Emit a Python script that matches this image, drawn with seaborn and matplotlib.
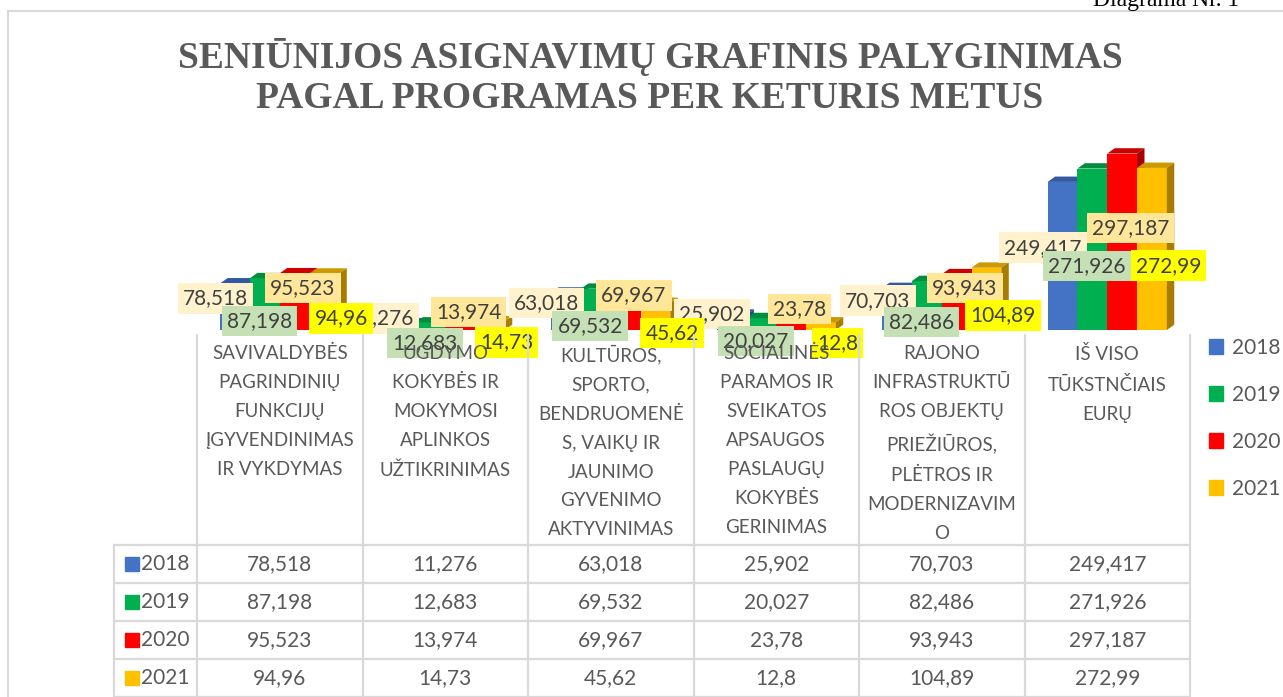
import colorsys
import matplotlib
matplotlib.use('Agg')
import matplotlib.pyplot as plt
import matplotlib.colors as mcolors
from matplotlib.patches import Patch, Polygon, Rectangle
import pandas as pd
import seaborn as sns

# data (thousand EUR)
categories = [
    'SAVIVALDYBĖS\nPAGRINDINIŲ\nFUNKCIJŲ\nĮGYVENDINIMAS\nIR VYKDYMAS',
    'UGDYMO\nKOKYBĖS IR\nMOKYMOSI\nAPLINKOS\nUŽTIKRINIMAS',
    'KULTŪROS,\nSPORTO,\nBENDRUOMENĖ\nS, VAIKŲ IR\nJAUNIMO\nGYVENIMO\nAKTYVINIMAS',
    'SOCIALINĖS\nPARAMOS IR\nSVEIKATOS\nAPSAUGOS\nPASLAUGŲ\nKOKYBĖS\nGERINIMAS',
    'RAJONO\nINFRASTRUKTŪ\nROS OBJEKTŲ\nPRIEŽIŪROS,\nPLĖTROS IR\nMODERNIZAVIM\nO',
    'IŠ VISO\nTŪKSTNČIAIS\nEURŲ',
]
years = ['2018', '2019', '2020', '2021']
v2018 = [78.518, 11.276, 63.018, 25.902, 70.703, 249.417]
v2019 = [87.198, 12.683, 69.532, 20.027, 82.486, 271.926]
v2020 = [95.523, 13.974, 69.967, 23.78, 93.943, 297.187]
v2021 = [94.96, 14.73, 45.62, 12.8, 104.89, 272.99]

colors = ['#4472C4', '#00B050', '#FF0000', '#FFC000']
label_bg = ['#FFF2CC', '#C5E0B4', '#FFE699', '#FFFF00']
label_off = [(-14, 6), (-4, -12), (6, 10), (12, -12)]  # points, per series
txt_col = '#595959'

series = [v2018, v2019, v2020, v2021]
rows = []
for y, vals in zip(years, series):
    for c, v in zip(categories, vals):
        rows.append({'category': c, 'year': y, 'value': v})
df = pd.DataFrame(rows)


def fmt(v):
    return f'{v:g}'.replace('.', ',')


def shade(c, f):
    r, g, b = mcolors.to_rgb(c)
    h, l, s = colorsys.rgb_to_hls(r, g, b)
    return colorsys.hls_to_rgb(h, l * f, s)


sns.set_theme(style='white')
plt.rcParams['font.family'] = ['Lato', 'DejaVu Sans']

W, H = 1283, 697
fig = plt.figure(figsize=(W / 100, H / 100), dpi=100)


def fx(px):
    return px / W


def fy(py):
    return 1 - py / H


# outer chart border
fig.patches.append(Rectangle((fx(8), fy(1000)), 2, fy(11) - fy(1000), transform=fig.transFigure,
                             fill=False, ec='#D9D9D9', lw=1.5))
fig.text(fx(1093), fy(6), 'Diagrama Nr. 1', family='Liberation Serif', fontsize=17, color='black',
         ha='left', va='baseline')
fig.text(fx(650), fy(77), 'SENIŪNIJOS ASIGNAVIMŲ GRAFINIS PALYGINIMAS\nPAGAL PROGRAMAS PER KETURIS METUS',
         family='Liberation Serif', weight='bold', fontsize=27, color=txt_col, ha='center', va='center',
         linespacing=1.2)

# bars
ax = fig.add_axes([fx(197), fy(330), fx(1190) - fx(197), fy(140) - fy(330)])
sns.barplot(data=df, x='category', y='value', hue='year', order=categories, hue_order=years,
            palette=colors, width=0.72, saturation=1, ax=ax, legend=False)
ax.set_xlim(-0.5, len(categories) - 0.5)
ax.set_ylim(0, 320)
ax.axis('off')

dx, dy = 0.045, 9
for i, (cont, vals) in enumerate(zip(ax.containers, series)):
    for bar, v in zip(cont.patches, vals):
        bar.set_zorder(2 + i * 0.1)
        bar.set_edgecolor('none')
        x0, x1, h = bar.get_x(), bar.get_x() + bar.get_width(), bar.get_height()
        top = Polygon([(x0, h), (x0 + dx, h + dy), (x1 + dx, h + dy), (x1, h)],
                      fc=shade(colors[i], 0.8), ec='none', zorder=2 + i * 0.1)
        side = Polygon([(x1, 0), (x1 + dx, dy), (x1 + dx, h + dy), (x1, h)],
                       fc=shade(colors[i], 0.65), ec='none', zorder=2 + i * 0.1)
        ax.add_patch(top)
        ax.add_patch(side)
        ax.annotate(fmt(v), (bar.get_x() + bar.get_width() / 2, h / 2), xytext=label_off[i],
                    textcoords='offset points', ha='center', va='center', fontsize=15, color='#404040',
                    bbox=dict(boxstyle='square,pad=0.25', fc=label_bg[i], ec='none'), zorder=5 + i)

# data table under the chart
tab = fig.add_axes([fx(197), fy(697), fx(1190) - fx(197), fy(335) - fy(697)])
tab.set_xlim(-0.5, len(categories) - 0.5)
tab.set_ylim(362, 0)
tab.axis('off')
grid = dict(color='#D9D9D9', lw=1.6, clip_on=False)
head_h, row_h = 210, 38
for k in range(len(categories) + 1):
    tab.plot([k - 0.5, k - 0.5], [0, 362], **grid)
for r in range(len(years) + 1):
    yy = head_h + r * row_h
    tab.plot([-1.0, len(categories) - 0.5], [yy, yy], **grid)
tab.plot([-1.0, -1.0], [head_h, 362], **grid)

for j, c in enumerate(categories):
    tab.text(j, 10, c, ha='center', va='top', fontsize=13.5, color=txt_col, linespacing=1.85)
for r, (y, vals) in enumerate(zip(years, series)):
    yc = head_h + (r + 0.5) * row_h
    tab.plot([-0.895], [yc], marker='s', ms=10, color=colors[r], clip_on=False, ls='none')
    tab.text(-0.84, yc, y, ha='left', va='center', fontsize=15, color=txt_col)
    for j, v in enumerate(vals):
        tab.text(j, yc, fmt(v), ha='center', va='center', fontsize=15, color=txt_col)

handles = [Patch(color=c, label=y) for c, y in zip(colors, years)]
fig.legend(handles=handles, loc='upper left', bbox_to_anchor=(fx(1190), fy(319)), frameon=False,
           fontsize=15, handlelength=0.7, handleheight=0.7, handletextpad=0.4, labelspacing=1.3,
           labelcolor=txt_col)

fig.savefig('out.png', dpi=100)
